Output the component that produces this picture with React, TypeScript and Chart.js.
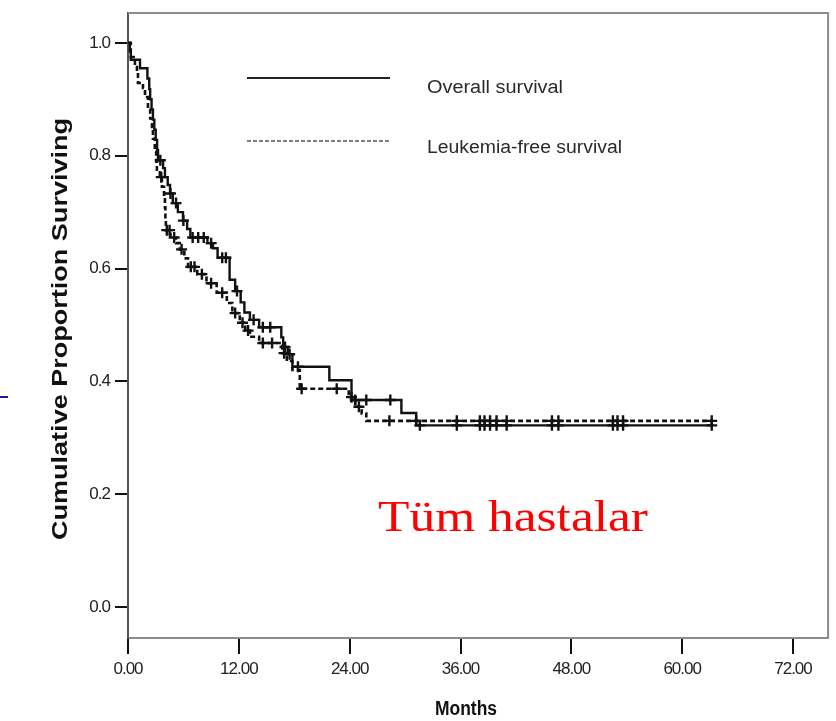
import React, { useEffect, useRef } from "react";
import { Chart, registerables } from "chart.js";

Chart.register(...registerables);

// Axis ticks
const monthTicks = [0, 12, 24, 36, 48, 60, 72];
const proportionTicks = [0, 0.2, 0.4, 0.6, 0.8, 1.0];

// Overall survival: Kaplan-Meier steps (month, proportion after the drop)
const osMonths = [0, 0.2, 0.3, 1.3, 2.1, 2.3, 2.4, 2.55, 2.7, 2.85, 3.0, 3.15, 3.25, 3.8, 4.0, 4.3, 4.55, 4.85, 5.4, 5.95, 6.4, 6.75, 8.6, 9.2, 9.7, 11.0, 11.6, 12.2, 12.6, 13.2, 14.2, 16.6, 16.8, 17.3, 17.8, 21.8, 24.2, 29.6, 31.2, 63.3];
const osSurvival = [1.0, 0.985, 0.97, 0.955, 0.937, 0.918, 0.9, 0.882, 0.864, 0.846, 0.828, 0.81, 0.792, 0.778, 0.762, 0.748, 0.733, 0.716, 0.7, 0.685, 0.67, 0.655, 0.645, 0.636, 0.619, 0.58, 0.56, 0.54, 0.522, 0.509, 0.496, 0.478, 0.461, 0.448, 0.426, 0.402, 0.367, 0.344, 0.322, 0.322];

// Overall survival: censored patients
const osCensorMonths = [3.5, 4.6, 5.2, 6.0, 7.0, 7.6, 8.2, 9.0, 10.2, 10.6, 11.8, 13.6, 14.6, 15.4, 17.0, 17.5, 18.4, 24.6, 25.8, 28.4, 31.6, 35.6, 38.1, 38.6, 39.2, 39.9, 41.0, 45.9, 46.6, 52.5, 53.0, 53.6, 63.2];
const osCensorSurvival = [0.792, 0.733, 0.716, 0.685, 0.655, 0.655, 0.655, 0.645, 0.619, 0.619, 0.56, 0.509, 0.496, 0.496, 0.461, 0.448, 0.426, 0.367, 0.367, 0.367, 0.322, 0.322, 0.322, 0.322, 0.322, 0.322, 0.322, 0.322, 0.322, 0.322, 0.322, 0.322, 0.322];

// Leukemia-free survival: Kaplan-Meier steps
const lfsMonths = [0, 0.3, 0.75, 0.97, 1.08, 1.62, 1.84, 2.16, 2.4, 2.6, 2.7, 2.9, 3.05, 3.13, 3.45, 3.67, 3.9, 4.0, 4.05, 4.1, 4.6, 5.2, 5.6, 6.1, 6.5, 7.5, 8.5, 9.6, 10.7, 11.3, 12.1, 12.7, 13.2, 14.2, 16.7, 17.2, 17.8, 18.6, 23.9, 24.6, 25.3, 25.8, 63.3];
const lfsSurvival = [1.0, 0.975, 0.957, 0.947, 0.929, 0.92, 0.904, 0.882, 0.866, 0.851, 0.83, 0.808, 0.79, 0.775, 0.762, 0.745, 0.727, 0.708, 0.688, 0.668, 0.655, 0.645, 0.634, 0.618, 0.603, 0.59, 0.574, 0.557, 0.539, 0.521, 0.504, 0.49, 0.479, 0.468, 0.45, 0.436, 0.42, 0.387, 0.372, 0.355, 0.343, 0.33, 0.33];

// Leukemia-free survival: censored patients
const lfsCensorMonths = [3.6, 4.2, 4.5, 5.0, 5.8, 6.8, 7.2, 8.0, 9.0, 10.2, 11.6, 12.4, 13.0, 14.6, 15.6, 16.9, 18.8, 22.6, 24.2, 25.0, 28.3, 31.2, 35.6, 38.1, 38.6, 39.2, 39.9, 41.0, 45.9, 46.6, 52.5, 53.0, 53.6, 63.2];
const lfsCensorSurvival = [0.762, 0.668, 0.668, 0.655, 0.634, 0.603, 0.603, 0.59, 0.574, 0.557, 0.521, 0.504, 0.49, 0.468, 0.468, 0.45, 0.387, 0.387, 0.372, 0.355, 0.33, 0.33, 0.33, 0.33, 0.33, 0.33, 0.33, 0.33, 0.33, 0.33, 0.33, 0.33, 0.33, 0.33];

const legendLabels = ["Overall survival", "Leukemia-free survival"];
const yTitle = "Cumulative Proportion Surviving";
const xTitle = "Months";
const caption = "Tüm hastalar";

const pairs = (xs: number[], ys: number[]) => xs.map((x, i) => ({ x, y: ys[i] }));

const sans = "'Liberation Sans', Arial, sans-serif";

function fitText(
  ctx: CanvasRenderingContext2D,
  text: string,
  x: number,
  y: number,
  width: number,
  font: string,
  color: string,
  align: CanvasTextAlign = "left",
  baseline: CanvasTextBaseline = "middle",
  rotate = 0
) {
  ctx.save();
  ctx.font = font;
  ctx.fillStyle = color;
  ctx.textAlign = align;
  ctx.textBaseline = baseline;
  const w = ctx.measureText(text).width || 1;
  ctx.translate(x, y);
  if (rotate) ctx.rotate(rotate);
  ctx.scale(width / w, 1);
  ctx.fillText(text, 0, 0);
  ctx.restore();
}

const decorations = {
  id: "decorations",
  beforeDraw(chart: any) {
    // tighter spacing for the axis tick labels
    (chart.ctx as any).letterSpacing = "-1px";
  },
  beforeDatasetsDraw(chart: any) {
    const { ctx, chartArea } = chart;
    (ctx as any).letterSpacing = "0px";
    ctx.save();
    ctx.strokeStyle = "#8c8c8c";
    ctx.lineWidth = 2;
    ctx.beginPath();
    ctx.moveTo(chartArea.left, chartArea.top);
    ctx.lineTo(chartArea.right, chartArea.top);
    ctx.lineTo(chartArea.right, chartArea.bottom);
    ctx.stroke();
    ctx.restore();
  },
  afterDraw(chart: any) {
    const { ctx } = chart;
    (ctx as any).letterSpacing = "0px";
    // legend
    ctx.save();
    ctx.strokeStyle = "#222";
    ctx.lineWidth = 2;
    ctx.beginPath();
    ctx.moveTo(247, 78);
    ctx.lineTo(390, 78);
    ctx.stroke();
    ctx.strokeStyle = "#555";
    ctx.lineWidth = 1.5;
    ctx.setLineDash([4, 2]);
    ctx.beginPath();
    ctx.moveTo(247, 141);
    ctx.lineTo(390, 141);
    ctx.stroke();
    ctx.restore();
    fitText(ctx, legendLabels[0], 427, 88, 136, `18px ${sans}`, "#2a2a2a");
    fitText(ctx, legendLabels[1], 427, 148, 195, `18px ${sans}`, "#2a2a2a");

    // axis titles
    fitText(ctx, yTitle, 61, 329, 422, `bold 22px ${sans}`, "#111", "center", "middle", -Math.PI / 2);
    fitText(ctx, xTitle, 466, 709, 62, `bold 20px ${sans}`, "#111", "center", "middle");

    // caption
    fitText(ctx, caption, 378, 531, 270, `44px 'Liberation Serif', 'DejaVu Serif', serif`, "#ff0000", "left", "alphabetic");

    // small blue mark at the left edge
    ctx.save();
    ctx.fillStyle = "#1c1c9c";
    ctx.fillRect(0, 396, 8, 2);
    ctx.restore();
  },
};

export default function App() {
  const ref = useRef<HTMLCanvasElement | null>(null);

  useEffect(() => {
    if (!ref.current) return;
    const chart = new Chart(ref.current, {
      type: "scatter",
      data: {
        datasets: [
          {
            label: legendLabels[0],
            data: pairs(osMonths, osSurvival),
            showLine: true,
            stepped: true,
            borderColor: "#111",
            borderWidth: 2.4,
            pointRadius: 0,
            fill: false,
          },
          {
            label: legendLabels[1],
            data: pairs(lfsMonths, lfsSurvival),
            showLine: true,
            stepped: true,
            borderColor: "#111",
            borderWidth: 2.6,
            borderDash: [5, 3],
            pointRadius: 0,
            fill: false,
          },
          {
            label: "os-censored",
            data: pairs(osCensorMonths, osCensorSurvival),
            showLine: false,
            pointStyle: "cross",
            pointRadius: 5.5,
            borderColor: "#111",
            borderWidth: 2.4,
          },
          {
            label: "lfs-censored",
            data: pairs(lfsCensorMonths, lfsCensorSurvival),
            showLine: false,
            pointStyle: "cross",
            pointRadius: 5.5,
            borderColor: "#111",
            borderWidth: 2.4,
          },
        ],
      },
      options: {
        responsive: false,
        animation: false,
        devicePixelRatio: 1,
        layout: { padding: { left: 0, top: 13, right: 7, bottom: 0 } },
        plugins: { legend: { display: false }, tooltip: { enabled: false } },
        scales: {
          x: {
            type: "linear",
            min: 0,
            max: 75.8,
            afterBuildTicks: (scale: any) => {
              scale.ticks = monthTicks.map((v) => ({ value: v }));
            },
            afterFit: (scale: any) => {
              scale.height = 83;
              scale.paddingLeft = 0;
              scale.paddingRight = 0;
            },
            ticks: {
              callback: (v: any) => Number(v).toFixed(2),
              font: { family: sans, size: 17 },
              color: "#222",
              padding: 5,
              maxRotation: 0,
              autoSkip: false,
            },
            grid: { drawOnChartArea: false, drawTicks: true, tickLength: 16, color: "#111", lineWidth: 2 },
            border: { display: true, color: "#8c8c8c", width: 2 },
          },
          y: {
            type: "linear",
            min: -0.055,
            max: 1.053,
            afterBuildTicks: (scale: any) => {
              scale.ticks = proportionTicks.map((v) => ({ value: v }));
            },
            afterFit: (scale: any) => {
              scale.width = 128;
              scale.paddingTop = 0;
              scale.paddingBottom = 0;
            },
            ticks: {
              callback: (v: any) => Number(v).toFixed(1),
              font: { family: sans, size: 17 },
              color: "#222",
              padding: 5,
              autoSkip: false,
            },
            grid: { drawOnChartArea: false, drawTicks: true, tickLength: 13, color: "#111", lineWidth: 2 },
            border: { display: true, color: "#555", width: 2 },
          },
        },
      },
      plugins: [decorations],
    } as any);
    return () => chart.destroy();
  }, []);

  return (
    <div style={{ position: "absolute", left: 0, top: 0, width: 836, height: 721, background: "#fff" }}>
      <canvas ref={ref} width={836} height={721} style={{ display: "block" }} />
    </div>
  );
}
